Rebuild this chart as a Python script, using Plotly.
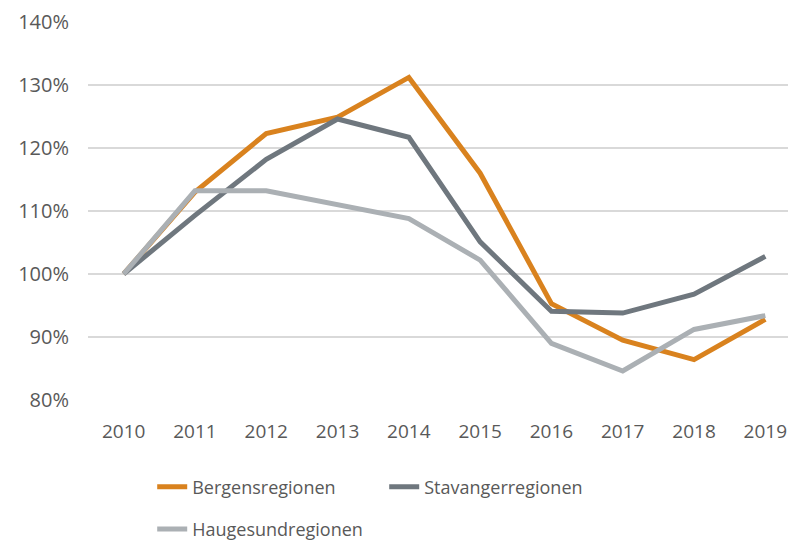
import plotly.graph_objects as go

years = ["2010", "2011", "2012", "2013", "2014", "2015", "2016", "2017", "2018", "2019"]
bergen = [100, 113.0, 122.3, 124.9, 131.2, 116.0, 95.3, 89.5, 86.4, 92.8]
stavanger = [100, 109.3, 118.2, 124.6, 121.7, 105.1, 94.1, 93.8, 96.8, 102.8]
haugesund = [100, 113.2, 113.2, 111.0, 108.8, 102.2, 89.0, 84.6, 91.2, 93.4]
y_ticks = [0.8, 0.9, 1.0, 1.1, 1.2, 1.3, 1.4]

series = [
    ("Bergensregionen", bergen, "#D9821E", "legend"),
    ("Stavangerregionen", stavanger, "#6F777E", "legend"),
    ("Haugesundregionen", haugesund, "#ABB0B4", "legend2"),
]

FONT = "Open Sans"
TEXT = "#595959"

fig = go.Figure()
for name, vals, color, leg in series:
    fig.add_trace(
        go.Scatter(
            x=years,
            y=[v / 100 for v in vals],
            mode="lines",
            name=name,
            line={"color": color, "width": 5},
            legend=leg,
        )
    )

fig.update_layout(
    width=788,
    height=533,
    paper_bgcolor="white",
    plot_bgcolor="white",
    margin={"l": 80, "r": 0, "t": 12, "b": 141},
    font={"family": FONT, "color": TEXT, "size": 19},
    xaxis={
        "type": "category",
        "range": [-0.5, 9.43],
        "showgrid": False,
        "showline": False,
        "ticks": "",
        "ticklabelstandoff": 18,
        "tickfont": {"size": 19, "color": TEXT},
    },
    yaxis={
        "range": [0.8, 1.4],
        "tickvals": y_ticks,
        "tickformat": ".0%",
        "ticklabeloverflow": "allow",
        "showgrid": True,
        "gridcolor": "#D9D9D9",
        "gridwidth": 1.5,
        "zeroline": False,
        "ticks": "",
        "ticklabelstandoff": 18,
        "tickfont": {"size": 20, "color": TEXT},
    },
    legend={
        "orientation": "h",
        "x": 0.183,
        "y": 0.101,
        "xref": "container",
        "yref": "container",
        "xanchor": "left",
        "yanchor": "middle",
        "font": {"size": 18, "color": TEXT},
        "entrywidth": 187,
    },
    legend2={
        "orientation": "h",
        "x": 0.183,
        "y": 0.022,
        "xref": "container",
        "yref": "container",
        "xanchor": "left",
        "yanchor": "middle",
        "font": {"size": 18, "color": TEXT},
    },
)

fig.write_html("out.html")
